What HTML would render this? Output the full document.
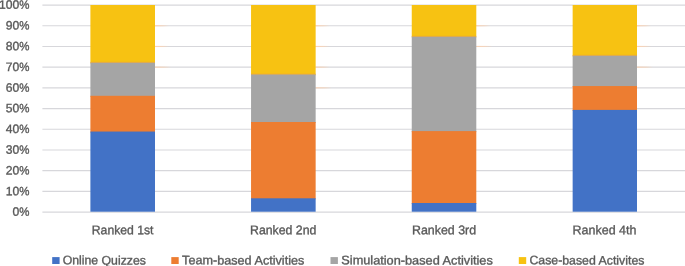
<!DOCTYPE html>
<html lang="en"><head><meta charset="utf-8"><title>Ranking chart</title>
<style>html,body{margin:0;padding:0;background:#fff;}body{width:685px;height:266px;overflow:hidden;}svg{display:block;will-change:transform;}text{font-family:"Liberation Sans",sans-serif;fill:#595959;stroke:#595959;stroke-width:0.35;}</style></head><body>
<svg width="685" height="266" viewBox="0 0 685 266">
<defs><linearGradient id="tint" x1="0" y1="0" x2="1" y2="0"><stop offset="0" stop-color="#FBD3B4" stop-opacity="1"/><stop offset="0.55" stop-color="#FBD3B4" stop-opacity="0.7"/><stop offset="1" stop-color="#FBD3B4" stop-opacity="0"/></linearGradient></defs>
<rect x="0" y="0" width="685" height="266" fill="#ffffff"/>
<line x1="42.4" y1="212.05" x2="685" y2="212.05" stroke="#D7D7DB" stroke-width="1.15"/>
<line x1="42.4" y1="191.35" x2="685" y2="191.35" stroke="#D7D7DB" stroke-width="1.15"/>
<line x1="42.4" y1="170.65" x2="685" y2="170.65" stroke="#D7D7DB" stroke-width="1.15"/>
<line x1="42.4" y1="149.95" x2="685" y2="149.95" stroke="#D7D7DB" stroke-width="1.15"/>
<line x1="42.4" y1="129.25" x2="685" y2="129.25" stroke="#D7D7DB" stroke-width="1.15"/>
<line x1="42.4" y1="108.55" x2="685" y2="108.55" stroke="#D7D7DB" stroke-width="1.15"/>
<line x1="42.4" y1="87.85" x2="685" y2="87.85" stroke="#D7D7DB" stroke-width="1.15"/>
<line x1="42.4" y1="67.15" x2="685" y2="67.15" stroke="#D7D7DB" stroke-width="1.15"/>
<line x1="42.4" y1="46.45" x2="685" y2="46.45" stroke="#D7D7DB" stroke-width="1.15"/>
<line x1="42.4" y1="25.75" x2="685" y2="25.75" stroke="#D7D7DB" stroke-width="1.15"/>
<line x1="42.4" y1="5.05" x2="685" y2="5.05" stroke="#D7D7DB" stroke-width="1.15"/>
<rect x="155.00" y="25.17" width="14" height="1.15" fill="url(#tint)"/>
<rect x="155.00" y="45.88" width="14" height="1.15" fill="url(#tint)"/>
<rect x="155.00" y="66.57" width="16" height="1.15" fill="url(#tint)"/>
<rect x="90.40" y="5.00" width="64.60" height="58.50" fill="#F7C212"/>
<rect x="90.40" y="62.50" width="64.60" height="34.30" fill="#A5A5A5"/>
<rect x="90.40" y="95.80" width="64.60" height="36.75" fill="#ED7D31"/>
<rect x="90.40" y="131.55" width="64.60" height="80.15" fill="#4272C6"/>
<rect x="90.40" y="61.90" width="64.60" height="0.7" fill="#F0A040" opacity="0.75"/>
<rect x="315.65" y="25.17" width="14" height="1.15" fill="url(#tint)"/>
<rect x="315.65" y="45.88" width="14" height="1.15" fill="url(#tint)"/>
<rect x="315.65" y="66.57" width="14" height="1.15" fill="url(#tint)"/>
<rect x="315.65" y="87.27" width="16" height="1.15" fill="url(#tint)"/>
<rect x="251.05" y="5.00" width="64.60" height="70.30" fill="#F7C212"/>
<rect x="251.05" y="74.30" width="64.60" height="48.70" fill="#A5A5A5"/>
<rect x="251.05" y="122.00" width="64.60" height="77.30" fill="#ED7D31"/>
<rect x="251.05" y="198.30" width="64.60" height="13.40" fill="#4272C6"/>
<rect x="251.05" y="73.70" width="64.60" height="0.7" fill="#F0A040" opacity="0.75"/>
<rect x="476.30" y="25.17" width="14" height="1.15" fill="url(#tint)"/>
<rect x="476.30" y="45.88" width="16" height="1.15" fill="url(#tint)"/>
<rect x="411.75" y="5.00" width="64.55" height="32.50" fill="#F7C212"/>
<rect x="411.75" y="36.50" width="64.55" height="95.60" fill="#A5A5A5"/>
<rect x="411.75" y="131.10" width="64.55" height="72.90" fill="#ED7D31"/>
<rect x="411.75" y="203.00" width="64.55" height="8.70" fill="#4272C6"/>
<rect x="411.75" y="35.90" width="64.55" height="0.7" fill="#F0A040" opacity="0.75"/>
<rect x="637.00" y="25.17" width="14" height="1.15" fill="url(#tint)"/>
<rect x="637.00" y="45.88" width="14" height="1.15" fill="url(#tint)"/>
<rect x="637.00" y="66.57" width="16" height="1.15" fill="url(#tint)"/>
<rect x="572.65" y="5.00" width="64.35" height="51.50" fill="#F7C212"/>
<rect x="572.65" y="55.50" width="64.35" height="31.55" fill="#A5A5A5"/>
<rect x="572.65" y="86.05" width="64.35" height="24.85" fill="#ED7D31"/>
<rect x="572.65" y="109.90" width="64.35" height="101.80" fill="#4272C6"/>
<rect x="572.65" y="54.90" width="64.35" height="0.7" fill="#F0A040" opacity="0.75"/>
<text transform="matrix(1 0.0008 0 1 19.30 215.85)" font-size="12.15"><tspan x="0" text-anchor="end">0</tspan><tspan x="0" textLength="10.2" lengthAdjust="spacingAndGlyphs">%</tspan></text>
<text transform="matrix(1 0.0008 0 1 19.30 195.15)" font-size="12.15"><tspan x="0" text-anchor="end">10</tspan><tspan x="0" textLength="10.2" lengthAdjust="spacingAndGlyphs">%</tspan></text>
<text transform="matrix(1 0.0008 0 1 19.30 174.45)" font-size="12.15"><tspan x="0" text-anchor="end">20</tspan><tspan x="0" textLength="10.2" lengthAdjust="spacingAndGlyphs">%</tspan></text>
<text transform="matrix(1 0.0008 0 1 19.30 153.75)" font-size="12.15"><tspan x="0" text-anchor="end">30</tspan><tspan x="0" textLength="10.2" lengthAdjust="spacingAndGlyphs">%</tspan></text>
<text transform="matrix(1 0.0008 0 1 19.30 133.05)" font-size="12.15"><tspan x="0" text-anchor="end">40</tspan><tspan x="0" textLength="10.2" lengthAdjust="spacingAndGlyphs">%</tspan></text>
<text transform="matrix(1 0.0008 0 1 19.30 112.35)" font-size="12.15"><tspan x="0" text-anchor="end">50</tspan><tspan x="0" textLength="10.2" lengthAdjust="spacingAndGlyphs">%</tspan></text>
<text transform="matrix(1 0.0008 0 1 19.30 91.65)" font-size="12.15"><tspan x="0" text-anchor="end">60</tspan><tspan x="0" textLength="10.2" lengthAdjust="spacingAndGlyphs">%</tspan></text>
<text transform="matrix(1 0.0008 0 1 19.30 70.95)" font-size="12.15"><tspan x="0" text-anchor="end">70</tspan><tspan x="0" textLength="10.2" lengthAdjust="spacingAndGlyphs">%</tspan></text>
<text transform="matrix(1 0.0008 0 1 19.30 50.25)" font-size="12.15"><tspan x="0" text-anchor="end">80</tspan><tspan x="0" textLength="10.2" lengthAdjust="spacingAndGlyphs">%</tspan></text>
<text transform="matrix(1 0.0008 0 1 19.30 29.55)" font-size="12.15"><tspan x="0" text-anchor="end">90</tspan><tspan x="0" textLength="10.2" lengthAdjust="spacingAndGlyphs">%</tspan></text>
<text transform="matrix(1 0.0008 0 1 19.30 8.85)" font-size="12.15"><tspan x="0" text-anchor="end">100</tspan><tspan x="0" textLength="10.2" lengthAdjust="spacingAndGlyphs">%</tspan></text>
<text transform="matrix(1 0.0008 0 1 91.8 234.25)" font-size="12.5" textLength="61.7" lengthAdjust="spacingAndGlyphs">Ranked 1st</text>
<text transform="matrix(1 0.0008 0 1 250.0 234.25)" font-size="12.5" textLength="66.4" lengthAdjust="spacingAndGlyphs">Ranked 2nd</text>
<text transform="matrix(1 0.0008 0 1 412.0 234.25)" font-size="12.5" textLength="64.1" lengthAdjust="spacingAndGlyphs">Ranked 3rd</text>
<text transform="matrix(1 0.0008 0 1 572.6 234.25)" font-size="12.5" textLength="63.8" lengthAdjust="spacingAndGlyphs">Ranked 4th</text>
<rect x="52.2" y="257.1" width="7.4" height="6.9" fill="#4272C6"/>
<text transform="matrix(1 0.0008 0 1 62.7 264.35)" font-size="12.3" textLength="83.2" lengthAdjust="spacingAndGlyphs">Online Quizzes</text>
<rect x="171.3" y="257.1" width="7.4" height="6.9" fill="#ED7D31"/>
<text transform="matrix(1 0.0008 0 1 182.1 264.35)" font-size="12.3" textLength="122.2" lengthAdjust="spacingAndGlyphs">Team-based Activities</text>
<rect x="330.5" y="257.1" width="7.4" height="6.9" fill="#A5A5A5"/>
<text transform="matrix(1 0.0008 0 1 341.3 264.35)" font-size="12.3" textLength="151.5" lengthAdjust="spacingAndGlyphs">Simulation-based Activities</text>
<rect x="518.8" y="257.1" width="7.4" height="6.9" fill="#F7C212"/>
<text transform="matrix(1 0.0008 0 1 529.4 264.35)" font-size="12.3" textLength="115.0" lengthAdjust="spacingAndGlyphs">Case-based Activites</text>
</svg></body></html>
